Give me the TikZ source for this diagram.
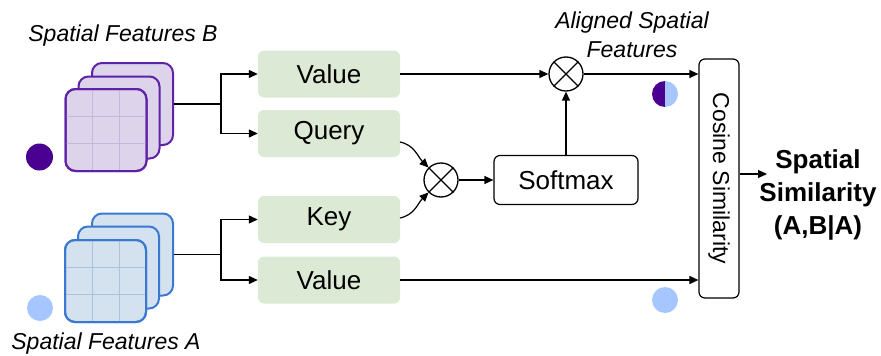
\documentclass[tikz,border=0pt]{standalone}
\usepackage{fontspec}
\setmainfont{Liberation Sans}
\usetikzlibrary{arrows.meta}
\definecolor{bStroke}{HTML}{5E22A6}
\definecolor{bFill}{HTML}{DDD3EA}
\definecolor{bGrid}{HTML}{C6B6DC}
\definecolor{aStroke}{HTML}{3B78D2}
\definecolor{aFill}{HTML}{D3E2EE}
\definecolor{aGrid}{HTML}{A9C3DE}
\definecolor{dotB}{HTML}{4A0090}
\definecolor{dotA}{HTML}{A5C6FF}
\definecolor{projFill}{HTML}{DCEAD5}
\tikzset{
  conn/.style={line width=1.2pt, draw=black},
  arr/.style={conn, -{Triangle[length=9pt,width=8pt]}},
  featB/.style={rectangle, rounded corners=10pt, draw=bStroke, fill=bFill, line width=2pt, minimum width=81pt, minimum height=82pt, inner sep=0pt},
  featA/.style={rectangle, rounded corners=10pt, draw=aStroke, fill=aFill, line width=2pt, minimum width=81pt, minimum height=82pt, inner sep=0pt},
  proj/.style={rectangle, rounded corners=6pt, fill=projFill, minimum width=142pt, minimum height=47pt, font=\fontsize{26}{30}\selectfont},
  opbox/.style={rectangle, rounded corners=6pt, draw=black, line width=1.2pt, fill=white},
  mult/.style={circle, draw=black, line width=1.3pt, minimum size=34pt, inner sep=0pt},
  caption/.style={font=\fontsize{23}{30}\selectfont\itshape, align=center},
}
\newcommand{\multsign}[1]{\draw[line width=1.3pt] (#1.north west) -- (#1.south east) (#1.north east) -- (#1.south west);}
\begin{document}
\begin{tikzpicture}[x=1pt,y=1pt]
\useasboundingbox (0,0) rectangle (881,-356);

% feature stacks B (top) and A (bottom)
\node[featB] (bBack) at (132.5,-104) {};
\node[featB] (bMid)  at (119,-117.5) {};
\node[featB] (bFront) at (106,-130) {};
\draw[bGrid, line width=1pt] (92.3,-89.5) -- (92.3,-170.5) (119.7,-89.5) -- (119.7,-170.5)
  (65.5,-116.3) -- (146.5,-116.3) (65.5,-143.7) -- (146.5,-143.7);
\draw[bStroke, line width=2pt, rounded corners=10pt] (65.5,-89) rectangle (146.5,-171);

\node[featA] (aBack) at (132.5,-254.5) {};
\node[featA] (aMid)  at (118.5,-267.5) {};
\node[featA] (aFront) at (105.5,-281) {};
\draw[aGrid, line width=1pt] (92,-240.5) -- (92,-321.5) (119,-240.5) -- (119,-321.5)
  (65,-267.3) -- (146,-267.3) (65,-294.7) -- (146,-294.7);
\draw[aStroke, line width=2pt, rounded corners=10pt] (65,-240) rectangle (146,-322);

\node[caption] (capB) at (123,-36) {Spatial Features B};
\node[caption] (capA) at (106,-344) {Spatial Features A};

% markers
\fill[dotB] (39.5,-157) circle[radius=13.5pt];
\fill[dotA] (40,-308) circle[radius=13pt];
\fill[dotB] (665,-81) arc[start angle=90, end angle=270, radius=13pt] -- cycle;
\fill[dotA] (665,-107) arc[start angle=-90, end angle=90, radius=13pt] -- cycle;
\fill[dotA] (665,-300) circle[radius=13pt];

% projections
\node[proj] (valB) at (329,-74) {Value};
\node[proj] (qry)  at (329,-133.5) {Query};
\node[proj] (key)  at (329,-219.5) {Key};
\node[proj] (valA) at (329,-280) {Value};

% operations
\node[mult] (mulQK) at (441,-180) {};
\multsign{mulQK}
\node[mult] (mulV) at (566,-74) {};
\multsign{mulV}
\node[opbox, minimum width=144pt, minimum height=49pt, font=\fontsize{26}{30}\selectfont] (soft) at (566,-180) {Softmax};
\node[opbox, minimum width=40pt, minimum height=239pt] (cos) at (719,-178.5) {};
\node[rotate=-90, font=\fontsize{23}{28}\selectfont] (cosTxt) at (cos.center) {Cosine Similarity};

\node[caption] (capAl) at (632,-35) {Aligned Spatial\\[-1pt]Features};
\node[font=\fontsize{26}{33}\selectfont\bfseries, align=center] (result) at (818,-195) {Spatial\\Similarity\\(A,B|A)};
\coordinate (resIn) at (767,-174);

% branching from the feature stacks
\coordinate (jB) at (221,-104);
\coordinate (jA) at (221,-254.5);
\draw[conn] (bBack.east) -- (jB);
\draw[arr] (jB) |- (valB.west);
\draw[arr] (jB) |- (qry.west);
\draw[conn] (aBack.east) -- (jA);
\draw[arr] (jA) |- (key.west);
\draw[arr] (jA) |- (valA.west);

% attention
\draw[arr] (400,-142) to[out=-12, in=135] (mulQK.north west);
\draw[arr] (400,-218) to[out=12, in=-135] (mulQK.south west);
\draw[arr] (mulQK.east) -- (soft.west);
\draw[arr] (soft.north) -- (mulV.south);
\draw[arr] (valB.east) -- (mulV.west);
\draw[arr] (mulV.east) -- (mulV.east -| cos.west);
\draw[arr] (valA.east) -- (valA.east -| cos.west);
\draw[arr] (cos.east) ++(0,4.5) -- (resIn);
\end{tikzpicture}
\end{document}
